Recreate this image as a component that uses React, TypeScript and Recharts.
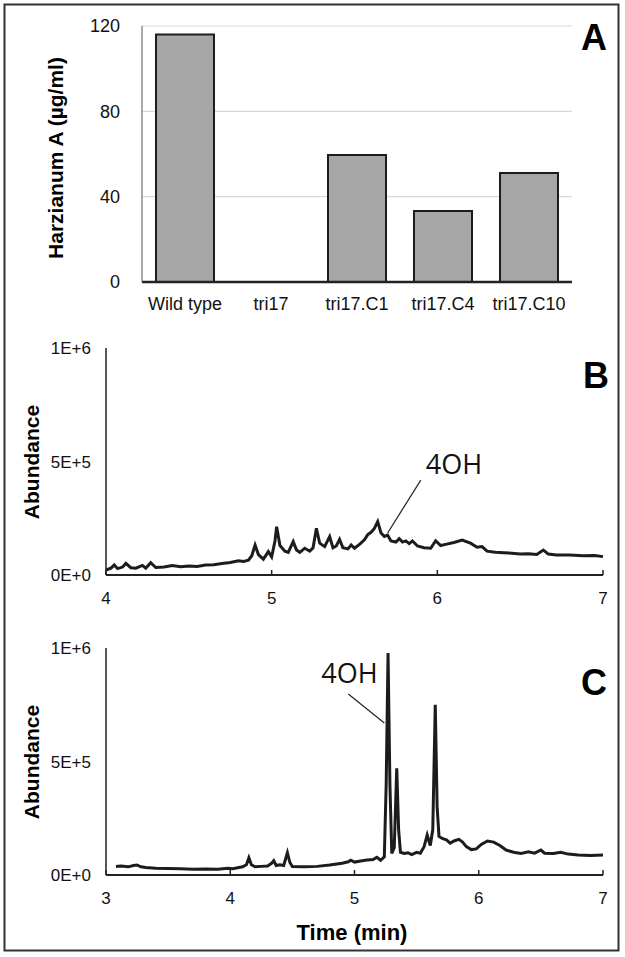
import { BarChart, Bar, LineChart, Line, XAxis, YAxis, CartesianGrid, ReferenceLine, ReferenceDot } from 'recharts';

// Panel A: harzianum A production per strain (µg/ml)
const strains = ['Wild type', 'tri17', 'tri17.C1', 'tri17.C4', 'tri17.C10'];
const harzianumA = [116, 0, 59.5, 33.3, 51.1];
const harzianumTicks = [0, 40, 80, 120];

// Panel B: tri17 chromatogram, time (min) and abundance (x1000)
const bTime = [
  4.0, 4.03, 4.05, 4.07, 4.1, 4.12, 4.15, 4.18, 4.22, 4.24, 4.27, 4.3, 4.35, 4.4, 4.45, 4.5, 4.55, 4.6, 4.65, 4.7,
  4.75, 4.8, 4.83, 4.86, 4.88, 4.9, 4.92, 4.95, 4.98, 5.0, 5.02, 5.03, 5.05, 5.08, 5.1, 5.13, 5.15, 5.17, 5.2, 5.23,
  5.25, 5.27, 5.29, 5.32, 5.35, 5.37, 5.39, 5.41, 5.43, 5.46, 5.48, 5.5, 5.53, 5.56, 5.58, 5.6, 5.62, 5.64, 5.66, 5.68,
  5.7, 5.72, 5.75, 5.77, 5.79, 5.81, 5.83, 5.85, 5.88, 5.92, 5.96, 5.99, 6.02, 6.05, 6.1, 6.15, 6.2, 6.24, 6.27, 6.3,
  6.35, 6.4, 6.45, 6.5, 6.55, 6.6, 6.64, 6.67, 6.72, 6.8, 6.88, 6.95, 7.0,
];
const bAbundance = [
  22, 30, 44, 28, 35, 51, 32, 30, 42, 30, 54, 33, 35, 42, 36, 40, 38, 44, 45, 51,
  55, 63, 60, 65, 85, 132, 90, 70, 103, 80, 150, 213, 130, 105, 100, 147, 110, 100, 118, 105,
  120, 206, 140, 125, 169, 120, 128, 157, 120, 115, 132, 118, 135, 155, 178, 188, 205, 235, 185, 170,
  176, 150, 145, 160, 145, 150, 138, 150, 128, 120, 118, 151, 130, 135, 143, 154, 140, 122, 125, 105,
  100, 98, 96, 92, 94, 90, 110, 92, 88, 88, 85, 86, 81,
];

// Panel C: complemented strain chromatogram, time (min) and abundance (x1000)
const cTime = [
  3.08, 3.12, 3.18, 3.22, 3.25, 3.28, 3.32, 3.4, 3.5, 3.6, 3.7, 3.8, 3.9, 3.98, 4.02, 4.06, 4.1, 4.13, 4.15, 4.17,
  4.2, 4.25, 4.3, 4.33, 4.35, 4.37, 4.4, 4.43, 4.46, 4.48, 4.5, 4.6, 4.7, 4.8, 4.9, 4.95, 4.97, 5.0, 5.05, 5.1,
  5.15, 5.18, 5.21, 5.24, 5.255, 5.27, 5.285, 5.3, 5.32, 5.34, 5.355, 5.37, 5.4, 5.43, 5.46, 5.5, 5.53, 5.56, 5.585, 5.61,
  5.63, 5.65, 5.665, 5.68, 5.71, 5.74, 5.77, 5.8, 5.84, 5.87, 5.9, 5.94, 5.98, 6.02, 6.07, 6.12, 6.17, 6.22, 6.28, 6.34,
  6.4, 6.45, 6.5, 6.53, 6.6, 6.66, 6.72, 6.8, 6.9, 7.0,
];
const cAbundance = [
  37, 40, 36, 42, 44, 36, 33, 30, 29, 27, 25, 26, 25, 30, 28, 32, 36, 45, 76, 45,
  36, 38, 40, 50, 63, 42, 45, 42, 98, 55, 37, 36, 38, 44, 52, 58, 65, 57, 62, 66,
  68, 78, 65, 80, 400, 978, 400, 95, 120, 470, 200, 100, 95, 98, 90, 100, 96, 125, 176, 130,
  200, 750, 300, 170, 160, 155, 140, 150, 157, 145, 125, 112, 115, 135, 150, 145, 130, 110, 100, 95,
  102, 96, 110, 96, 95, 100, 92, 88, 86, 88,
];

const abundanceTicks = [0, 500000, 1000000];

const barData = strains.map((strain, i) => ({ strain, value: harzianumA[i] }));
const bData = bTime.map((t, i) => ({ t, v: bAbundance[i] * 1000 }));
const cData = cTime.map((t, i) => ({ t, v: cAbundance[i] * 1000 }));

const font = '"Liberation Sans", Arial, sans-serif';
const ink = '#1c1c1c';

const fmtE = (v: number) => {
  if (v === 0) return '0E+0';
  const e = Math.floor(Math.log10(v));
  return `${Math.round(v / 10 ** e)}E+${e}`;
};

const tickStyle = { fill: '#111', fontSize: 17, fontFamily: font };

export default function App() {
  return (
    <div style={{ position: 'absolute', left: 0, top: 0, width: 625, height: 957, background: '#fff' }}>
      <div style={{ position: 'absolute', left: 0, top: 0 }}>
        <BarChart width={625} height={320} data={barData} margin={{ top: 26, right: 53, left: 0, bottom: 0 }}>
          <CartesianGrid vertical={false} stroke="#d9d9d9" strokeWidth={1.2} />
          <XAxis
            dataKey="strain"
            height={38}
            interval={0}
            tickLine={false}
            tickSize={0}
            tickMargin={15}
            axisLine={{ stroke: '#222', strokeWidth: 2.5 }}
            tick={{ ...tickStyle, fontSize: 18 }}
          />
          <YAxis
            width={142}
            domain={[0, 120]}
            ticks={harzianumTicks}
            tickLine={false}
            tickSize={0}
            tickMargin={22}
            axisLine={{ stroke: '#555', strokeWidth: 1 }}
            tick={{ ...tickStyle, fontSize: 18 }}
          />
          <Bar dataKey="value" fill="#a6a6a6" stroke={ink} strokeWidth={2} barSize={58} isAnimationActive={false} />
        </BarChart>
      </div>

      <div style={{ position: 'absolute', left: 0, top: 320 }}>
        <LineChart width={625} height={300} data={bData} margin={{ top: 28, right: 22, left: 0, bottom: 0 }}>
          <XAxis
            type="number"
            dataKey="t"
            domain={[4, 7]}
            ticks={[4, 5, 6, 7]}
            height={45}
            tickSize={-5}
            tickMargin={22}
            tickLine={{ stroke: '#222', strokeWidth: 1.5 }}
            axisLine={{ stroke: '#222', strokeWidth: 2 }}
            tick={tickStyle}
          />
          <YAxis
            type="number"
            domain={[0, 1000000]}
            ticks={abundanceTicks}
            width={106}
            tickLine={false}
            tickSize={0}
            tickMargin={15}
            axisLine={{ stroke: '#222', strokeWidth: 1.5 }}
            tick={tickStyle}
            tickFormatter={fmtE}
          />
          <Line type="linear" dataKey="v" stroke={ink} strokeWidth={3} dot={false} isAnimationActive={false} />
          <ReferenceLine segment={[{ x: 5.9, y: 418000 }, { x: 5.7, y: 185000 }]} stroke="#222" strokeWidth={1.2} />
          <ReferenceDot
            x={6.1}
            y={485000}
            r={0}
            fill="none"
            stroke="none"
            label={{ value: '4OH', position: 'center', fill: '#111', fontSize: 27, fontFamily: '"Open Sans", sans-serif' }}
          />
        </LineChart>
      </div>

      <div style={{ position: 'absolute', left: 0, top: 620 }}>
        <LineChart width={625} height={337} data={cData} margin={{ top: 28, right: 22, left: 0, bottom: 0 }}>
          <XAxis
            type="number"
            dataKey="t"
            domain={[3, 7]}
            ticks={[3, 4, 5, 6, 7]}
            height={82}
            tickSize={-5}
            tickMargin={22}
            tickLine={{ stroke: '#222', strokeWidth: 1.5 }}
            axisLine={{ stroke: '#222', strokeWidth: 2 }}
            tick={tickStyle}
          />
          <YAxis
            type="number"
            domain={[0, 1000000]}
            ticks={abundanceTicks}
            width={106}
            tickLine={false}
            tickSize={0}
            tickMargin={15}
            axisLine={{ stroke: '#222', strokeWidth: 1.5 }}
            tick={tickStyle}
            tickFormatter={fmtE}
          />
          <Line type="linear" dataKey="v" stroke={ink} strokeWidth={3} dot={false} isAnimationActive={false} />
          <ReferenceLine segment={[{ x: 4.95, y: 797000 }, { x: 5.24, y: 670000 }]} stroke="#222" strokeWidth={1.2} />
          <ReferenceDot
            x={4.96}
            y={890000}
            r={0}
            fill="none"
            stroke="none"
            label={{ value: '4OH', position: 'center', fill: '#111', fontSize: 27, fontFamily: '"Open Sans", sans-serif' }}
          />
        </LineChart>
      </div>

      <svg width={625} height={957} style={{ position: 'absolute', left: 0, top: 0, pointerEvents: 'none' }}>
        <rect x={4.5} y={4.5} width={614} height={946} fill="none" stroke="#333" strokeWidth={2} />
        <g fontFamily={font} fontWeight="bold" fill="#000">
          <text x={594} y={50} fontSize={36} textAnchor="middle">A</text>
          <text x={596} y={388} fontSize={36} textAnchor="middle">B</text>
          <text x={594} y={695} fontSize={36} textAnchor="middle">C</text>
          <text x={55} y={158} fontSize={21} textAnchor="middle" dominantBaseline="central" transform="rotate(-90 55 158)">
            Harzianum A (µg/ml)
          </text>
          <text x={31} y={462} fontSize={21} textAnchor="middle" dominantBaseline="central" transform="rotate(-90 31 462)">
            Abundance
          </text>
          <text x={31} y={762} fontSize={21} textAnchor="middle" dominantBaseline="central" transform="rotate(-90 31 762)">
            Abundance
          </text>
          <text x={352} y={932} fontSize={22} textAnchor="middle" dominantBaseline="central">Time (min)</text>
        </g>
      </svg>
    </div>
  );
}
